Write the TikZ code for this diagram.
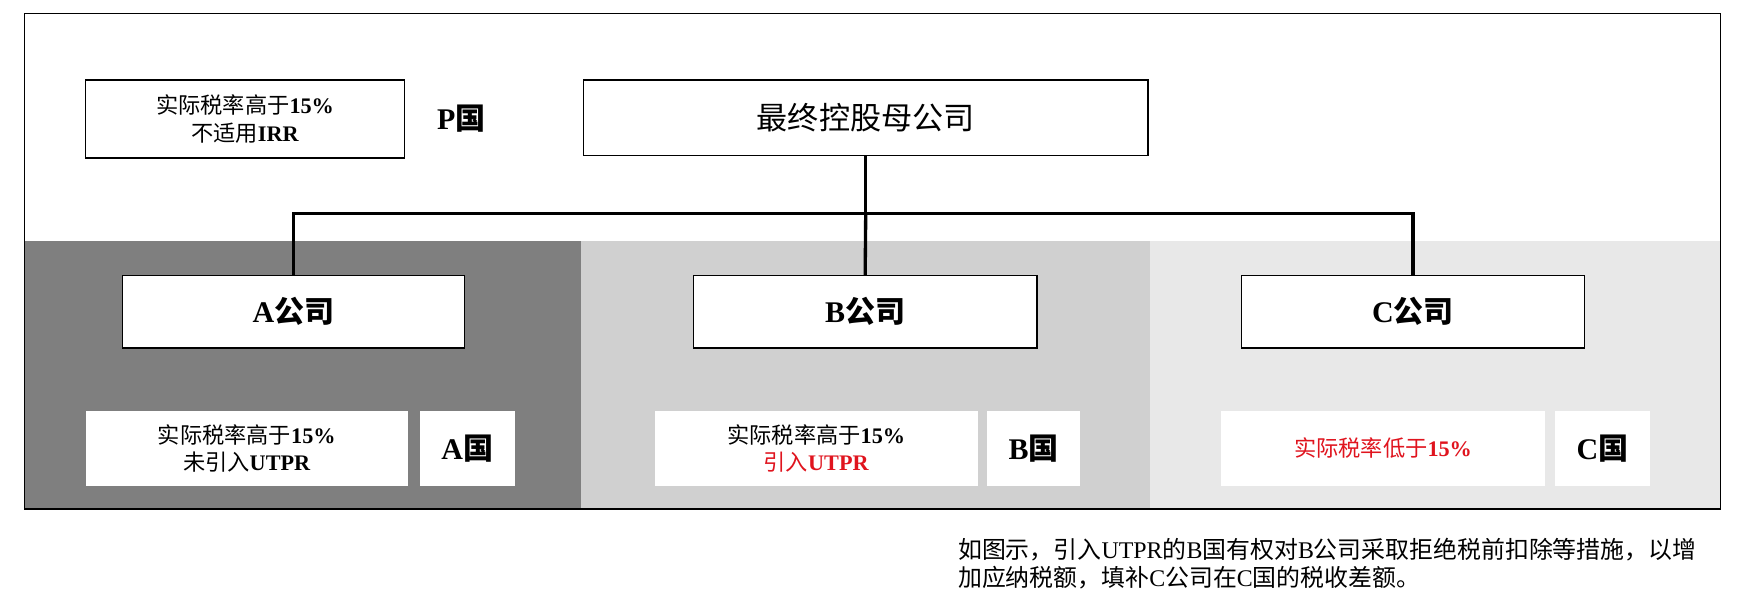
\documentclass[tikz,border=0pt]{standalone}
\usepackage{fontspec}
\setmainfont{Liberation Serif}
\newfontfamily\cjk{Noto Sans CJK SC}
\definecolor{dg}{HTML}{7F7F7F}
\definecolor{mg}{HTML}{D0D0D0}
\definecolor{lg}{HTML}{E8E8E8}
\definecolor{rd}{HTML}{E0141E}
\begin{document}
\begin{tikzpicture}[x=1pt,y=-1pt,
  bx/.style={draw=black,line width=1.3pt,fill=white,minimum height=66pt,align=center,inner sep=0pt},
  info/.style={fill=white,minimum height=67pt,align=center,inner sep=0pt,font=\fontsize{20}{25}\selectfont},
  lbl/.style={font=\fontsize{27}{30}\selectfont\bfseries},
  tree/.style={line width=3pt}]
\useasboundingbox (0,0) rectangle (1572,542);
\fill[dg] (22,217) rectangle (523,458);
\fill[mg] (523,217) rectangle (1035,458);
\fill[lg] (1035,217) rectangle (1548,458);
\draw[line width=1.3pt] (22,12) rectangle (1548,458);
\node[bx,minimum width=287pt,minimum height=70pt,font=\fontsize{20}{25}\selectfont] (p) at (220.5,107) {{\cjk 实际税率高于}\textbf{15\%}\\{\cjk 不适用}\textbf{IRR}};
\node[lbl] (pl) at (415,107) {P{\cjk 国}};
\node[bx,minimum width=508pt,minimum height=68pt,font=\fontsize{28}{32}\selectfont\cjk] (root) at (779,106) {最终控股母公司};
\node[bx,minimum width=308pt,minimum height=65pt,lbl] (a) at (264,280.5) {A{\cjk 公司}};
\node[bx,minimum width=309pt,minimum height=65pt,lbl] (b) at (778.5,280.5) {B{\cjk 公司}};
\node[bx,minimum width=309pt,minimum height=65pt,lbl] (c) at (1271.5,280.5) {C{\cjk 公司}};
\coordinate (j) at (779,192);
\draw[tree] (root.south) -- (j);
\draw[tree] (a.north) |- (j) -| (c.north);
\draw[tree] (j) -- (b.north);
\node[info,minimum width=290pt] (ai) at (222,403.5) {{\cjk 实际税率高于}\textbf{15\%}\\{\cjk 未引入}\textbf{UTPR}};
\node[info,minimum width=85pt,lbl] (an) at (420.5,403.5) {A{\cjk 国}};
\node[info,minimum width=291pt] (bi) at (734.5,403.5) {{\cjk 实际税率高于}\textbf{15\%}\\\textcolor{rd}{{\cjk 引入}\textbf{UTPR}}};
\node[info,minimum width=84pt,lbl] (bn) at (930,403.5) {B{\cjk 国}};
\node[info,minimum width=291pt,text=rd] (ci) at (1244.5,403.5) {{\cjk 实际税率低于}\textbf{15\%}};
\node[info,minimum width=86pt,lbl] (cn) at (1442,403.5) {C{\cjk 国}};
\node[anchor=north west,align=left,inner sep=0pt,font=\fontsize{21.5}{25}\selectfont] (cap) at (862,484) {{\cjk 如图示，引入}UTPR{\cjk 的}B{\cjk 国有权对}B{\cjk 公司采取拒绝税前扣除等措施，以增}\\{\cjk 加应纳税额，填补}C{\cjk 公司在}C{\cjk 国的税收差额。}};
\end{tikzpicture}
\end{document}
